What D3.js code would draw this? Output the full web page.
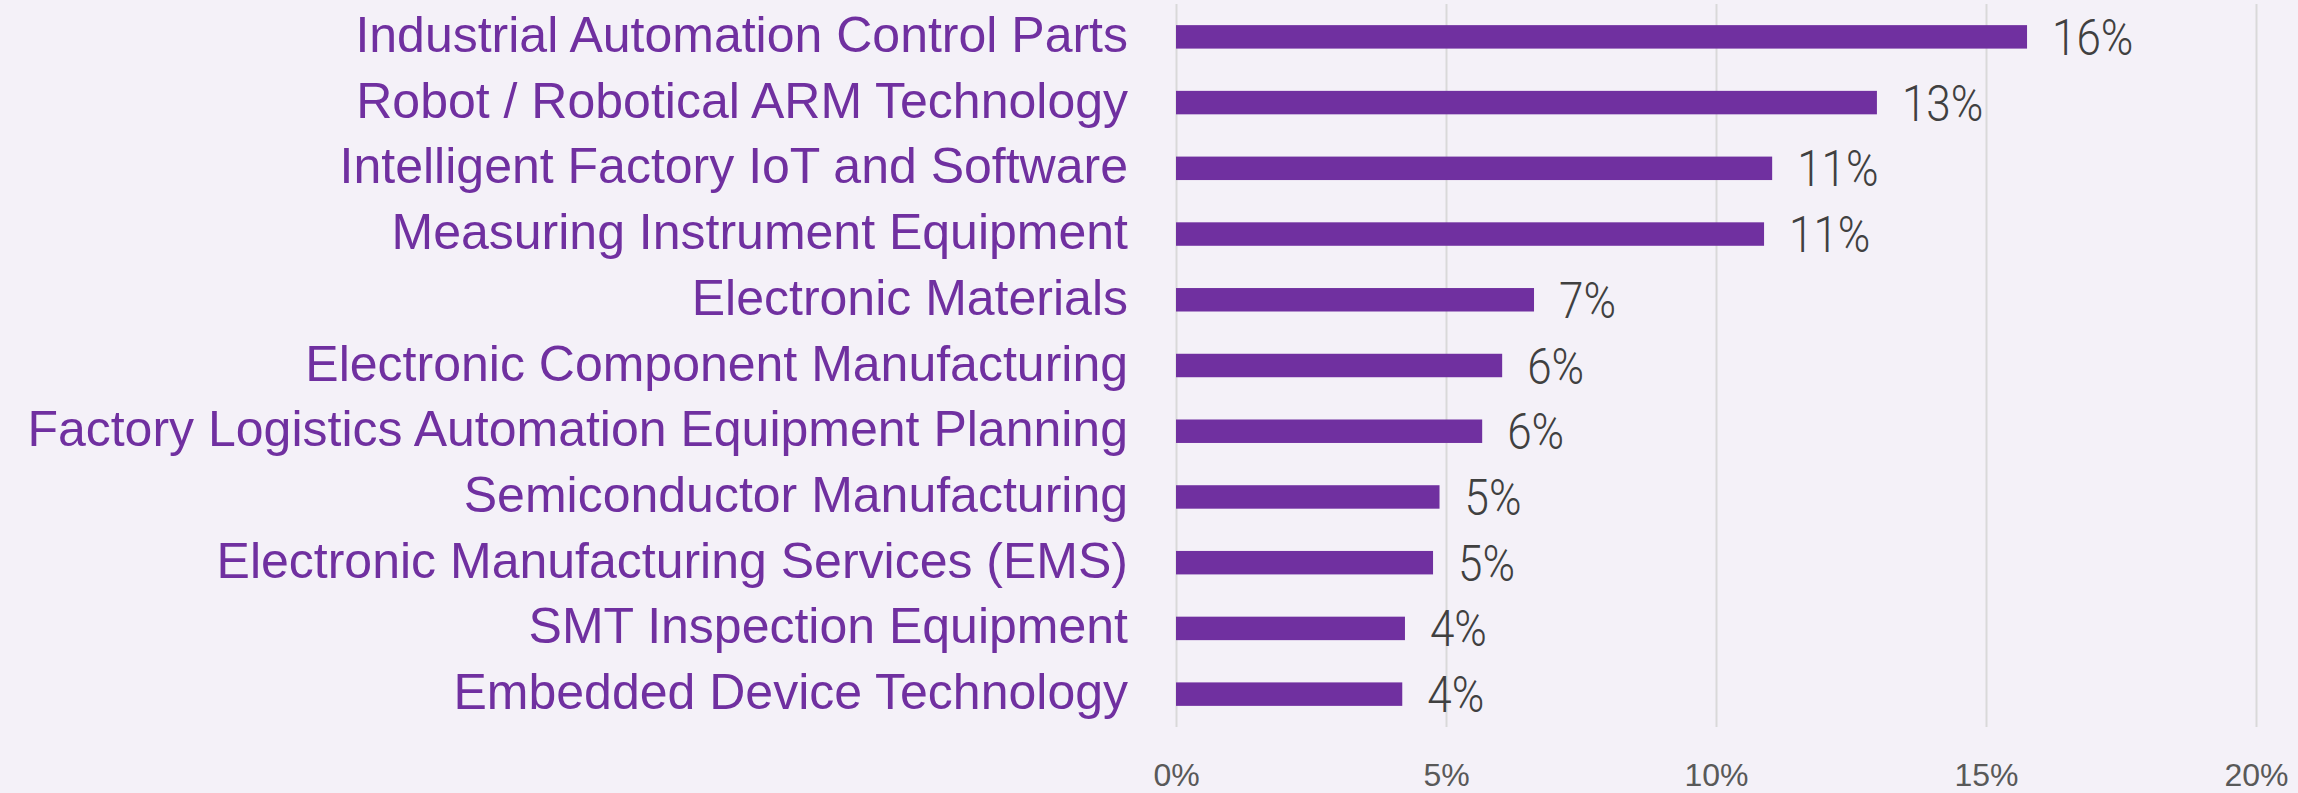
<!DOCTYPE html>
<html>
  <head>
    <meta charset="UTF-8">
    <title>Share by category</title>
    <style>
    body {
      margin: 0;
      background: #f4f1f8;
    }
    svg {
      display: block;
    }
    .cat {
      font: 50px "Liberation Sans", Arial, sans-serif;
      fill: #7030a0;
    }
    .val {
      font: 300 50px Roboto, "Liberation Sans", Arial, sans-serif;
      fill: #404040;
    }
    .axis text {
      font: 32px "Liberation Sans", Arial, sans-serif;
      fill: #595959;
    }
    .axis line {
      stroke: #d9d9d9;
      stroke-width: 2px;
    }
    .bar {
      fill: #7030a0;
    }
    </style>
  </head>
  <body>
    <svg width="2298" height="793"></svg>
    <script src="https://d3js.org/d3.v7.min.js"></script>
    <script>
// data, top to bottom
var categories = [
  "Industrial Automation Control Parts",
  "Robot / Robotical ARM Technology",
  "Intelligent Factory IoT and Software",
  "Measuring Instrument Equipment",
  "Electronic Materials",
  "Electronic Component Manufacturing",
  "Factory Logistics Automation Equipment Planning",
  "Semiconductor Manufacturing",
  "Electronic Manufacturing Services (EMS)",
  "SMT Inspection Equipment",
  "Embedded Device Technology"
];
var shares = [15.76, 12.98, 11.04, 10.89, 6.63, 6.04, 5.67, 4.88, 4.76, 4.24, 4.19];
var xTicks = [0, 5, 10, 15, 20];

var svg = d3.select("svg"),
    width = +svg.attr("width"),
    height = +svg.attr("height"),
    plotTop = 4,
    plotBottom = 727;

svg.append("rect")
    .attr("width", width)
    .attr("height", height)
    .attr("fill", "#f4f1f8");

var x = d3.scaleLinear().domain([0, 20]).range([1176, 2256]);

var y = d3.scaleBand()
    .domain(categories)
    .range([plotTop, plotBottom])
    .paddingInner(0.643)
    .paddingOuter(0.3215);

// gridlines + tick labels
var axis = svg.append("g")
    .attr("class", "axis")
    .attr("transform", "translate(0," + plotBottom + ")")
    .call(d3.axisBottom(x)
      .tickValues(xTicks)
      .tickSize(-(plotBottom - plotTop))
      .tickPadding(36)
      .tickFormat(d => d + "%"));
axis.select(".domain").remove();
axis.selectAll("text").attr("fill", null);
axis.selectAll("line").attr("stroke", null);

var rows = categories.map((c, i) => ({cat: c, v: shares[i]}));

svg.append("g").selectAll("rect")
  .data(rows)
  .join("rect")
    .attr("class", "bar")
    .attr("x", x(0))
    .attr("y", d => y(d.cat))
    .attr("width", d => x(d.v) - x(0))
    .attr("height", y.bandwidth());

// category labels
svg.append("g").selectAll("text")
  .data(rows)
  .join("text")
    .attr("class", "cat")
    .attr("text-anchor", "end")
    .attr("x", 1128)
    .attr("y", d => y(d.cat) + y.bandwidth() / 2)
    .attr("dy", "0.3em")
    .text(d => d.cat);

// value labels, thin and a bit narrow
svg.append("g").selectAll("text")
  .data(rows)
  .join("text")
    .attr("class", "val")
    .attr("transform", d => "translate(" + (x(d.v) + 25) + "," + (y(d.cat) + y.bandwidth() / 2) + ") scale(0.88,1)")
    .attr("dy", "0.36em")
    .text(d => Math.round(d.v) + "%");
    </script>
  </body>
</html>
